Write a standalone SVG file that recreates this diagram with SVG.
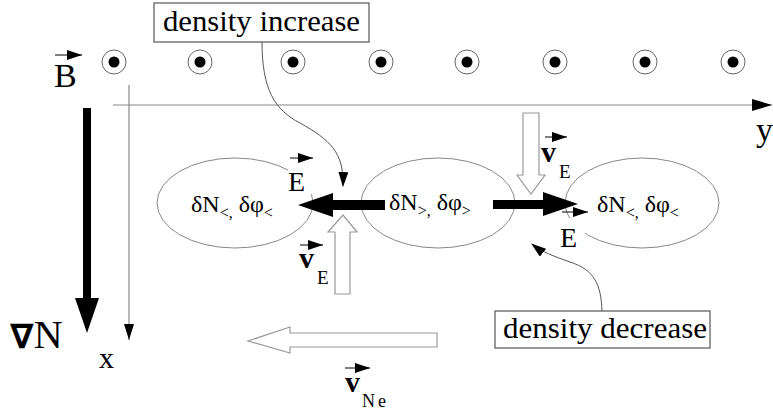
<svg xmlns="http://www.w3.org/2000/svg" width="773" height="413" viewBox="0 0 773 413" font-family="Liberation Serif, serif">
<style>
.ax{stroke:#888;stroke-width:1.2;fill:none}
.ell{fill:none;stroke:#888;stroke-width:1}
.hol{fill:#fff;stroke:#999;stroke-width:1.2}
.vec{stroke:#000;stroke-width:1;fill:none}
.lead{stroke:#555;stroke-width:1;fill:none}
.box{fill:#fff;stroke:#555;stroke-width:1.2}
.ring{fill:#fff;stroke:#666;stroke-width:1}
</style>
<defs>
<marker id="axh" markerUnits="userSpaceOnUse" markerWidth="20" markerHeight="12" refX="20" refY="6" orient="auto"><path d="M0,0 L20,6 L0,12 Z" fill="#000"/></marker>
<marker id="axv" markerUnits="userSpaceOnUse" markerWidth="16" markerHeight="10" refX="16" refY="5" orient="auto"><path d="M0,0 L16,5 L0,10 Z" fill="#000"/></marker>
<marker id="vh" markerUnits="userSpaceOnUse" markerWidth="15" markerHeight="10" refX="15" refY="5" orient="auto"><path d="M0,0 L15,5 L0,10 Z" fill="#000"/></marker>
<marker id="ld" markerUnits="userSpaceOnUse" markerWidth="15" markerHeight="10" refX="14" refY="5" orient="auto"><path d="M0,0 L15,5 L0,10 Z" fill="#000"/></marker>
<g id="dot"><circle class="ring" r="12"/><circle r="5.5" fill="#000"/></g>
</defs>
<rect width="773" height="413" fill="#fff"/>

<g id="field-B">
<use href="#dot" x="114" y="62"/><use href="#dot" x="200" y="62"/><use href="#dot" x="293" y="62"/><use href="#dot" x="381" y="62"/>
<use href="#dot" x="467" y="62"/><use href="#dot" x="555" y="62"/><use href="#dot" x="645" y="62"/><use href="#dot" x="733" y="62"/>
<line class="vec" x1="55" y1="55" x2="82" y2="55" marker-end="url(#vh)"/>
<text x="54" y="87" font-size="34" font-family="Liberation Serif, serif">B</text>
</g>

<g id="axes">
<line class="ax" x1="113" y1="105" x2="772" y2="105" marker-end="url(#axh)"/>
<line class="ax" x1="129" y1="85" x2="129" y2="340" marker-end="url(#axv)"/>
<text x="756" y="141" font-size="34" font-family="Liberation Serif, serif">y</text>
<text x="99" y="368" font-size="30" font-family="Liberation Serif, serif">x</text>
</g>

<g id="gradN">
<path d="M83,108 L91,108 L91,298 L99,298 L87,333 L75,298 L83,298 Z" fill="#000"/>
<text x="10" y="348" font-size="40" font-family="Liberation Serif, serif"><tspan font-family="DejaVu Sans, sans-serif" font-weight="bold" font-size="34">∇</tspan>N</text>
</g>

<g id="ellipse-left">
<ellipse class="ell" cx="235" cy="203" rx="78" ry="45"/>
<text x="191" y="212" font-size="24" font-family="Liberation Serif, serif">δN<tspan font-size="16" dy="6">&lt;,</tspan><tspan dy="-6"> δφ</tspan><tspan font-size="16" dy="6">&lt;</tspan></text>
</g>
<g id="ellipse-center">
<ellipse class="ell" cx="438" cy="203" rx="77" ry="45"/>
<text x="389" y="210" font-size="24" font-family="Liberation Serif, serif">δN<tspan font-size="16" dy="6">&gt;,</tspan><tspan dy="-6"> δφ</tspan><tspan font-size="16" dy="6">&gt;</tspan></text>
</g>
<g id="ellipse-right">
<ellipse class="ell" cx="642" cy="203" rx="77" ry="45"/>
<text x="597" y="212" font-size="24" font-family="Liberation Serif, serif">δN<tspan font-size="16" dy="6">&lt;,</tspan><tspan dy="-6"> δφ</tspan><tspan font-size="16" dy="6">&lt;</tspan></text>
</g>

<g id="E-left">
<line class="vec" x1="290" y1="158" x2="313" y2="158" marker-end="url(#vh)"/>
<rect x="288" y="166" width="27" height="28" fill="#fff"/>
<text x="288" y="191" font-size="28" font-family="Liberation Serif, serif">E</text>
<path d="M385,200 L333,200 L333,193 L298,205 L333,217 L333,210 L385,210 Z" fill="#000"/>
</g>
<g id="E-right">
<path d="M493,200 L543,200 L543,192 L578,204 L543,216 L543,209 L493,209 Z" fill="#000"/>
<line class="vec" x1="562" y1="212" x2="588" y2="212" marker-end="url(#vh)"/>
<rect x="560" y="218" width="25" height="30" fill="#fff"/>
<text x="560" y="247" font-size="28" font-family="Liberation Serif, serif">E</text>
</g>

<g id="vE-top">
<path class="hol" d="M523,113 L539,113 L539,175 L545,175 L531,194 L517,175 L523,175 Z"/>
<line class="vec" x1="545" y1="137" x2="567" y2="137" marker-end="url(#vh)"/>
<text x="541" y="162" font-size="30" font-weight="bold" font-family="Liberation Serif, serif">v</text>
<text x="559" y="178" font-size="19" font-family="Liberation Serif, serif">E</text>
</g>
<g id="vE-bottom">
<path class="hol" d="M335,294 L350,294 L350,232 L357,232 L343,215 L328,232 L335,232 Z"/>
<line class="vec" x1="300" y1="245" x2="323" y2="245" marker-end="url(#vh)"/>
<text x="299" y="268" font-size="30" font-weight="bold" font-family="Liberation Serif, serif">v</text>
<text x="317" y="284" font-size="19" font-family="Liberation Serif, serif">E</text>
</g>
<g id="vNe">
<path class="hol" d="M437,333 L437,347 L290,347 L290,353 L248,341 L290,327 L290,333 Z"/>
<line class="vec" x1="345" y1="368" x2="370" y2="368" marker-end="url(#vh)"/>
<text x="345" y="392" font-size="30" font-weight="bold" font-family="Liberation Serif, serif">v</text>
<text x="362" y="407" font-size="18" letter-spacing="3" font-family="Liberation Serif, serif">Ne</text>
</g>

<g id="density-increase">
<rect class="box" x="154" y="3" width="215" height="39"/>
<text x="163" y="31" font-size="30" textLength="197" lengthAdjust="spacingAndGlyphs" font-family="Liberation Serif, serif">density increase</text>
</g>
<g id="density-decrease">
<rect class="box" x="495" y="311" width="215" height="37"/>
<text x="503" y="338" font-size="30" textLength="204" lengthAdjust="spacingAndGlyphs" font-family="Liberation Serif, serif">density decrease</text>
</g>

<g id="connectors">
<path class="lead" d="M262,42 C262,90 275,110 300,123 C330,140 344,152 343,186" marker-end="url(#ld)"/>
<path class="lead" d="M602,311 C601,285 595,270 570,262 C553,256 542,252 532,244" marker-end="url(#ld)"/>
</g>
</svg>
